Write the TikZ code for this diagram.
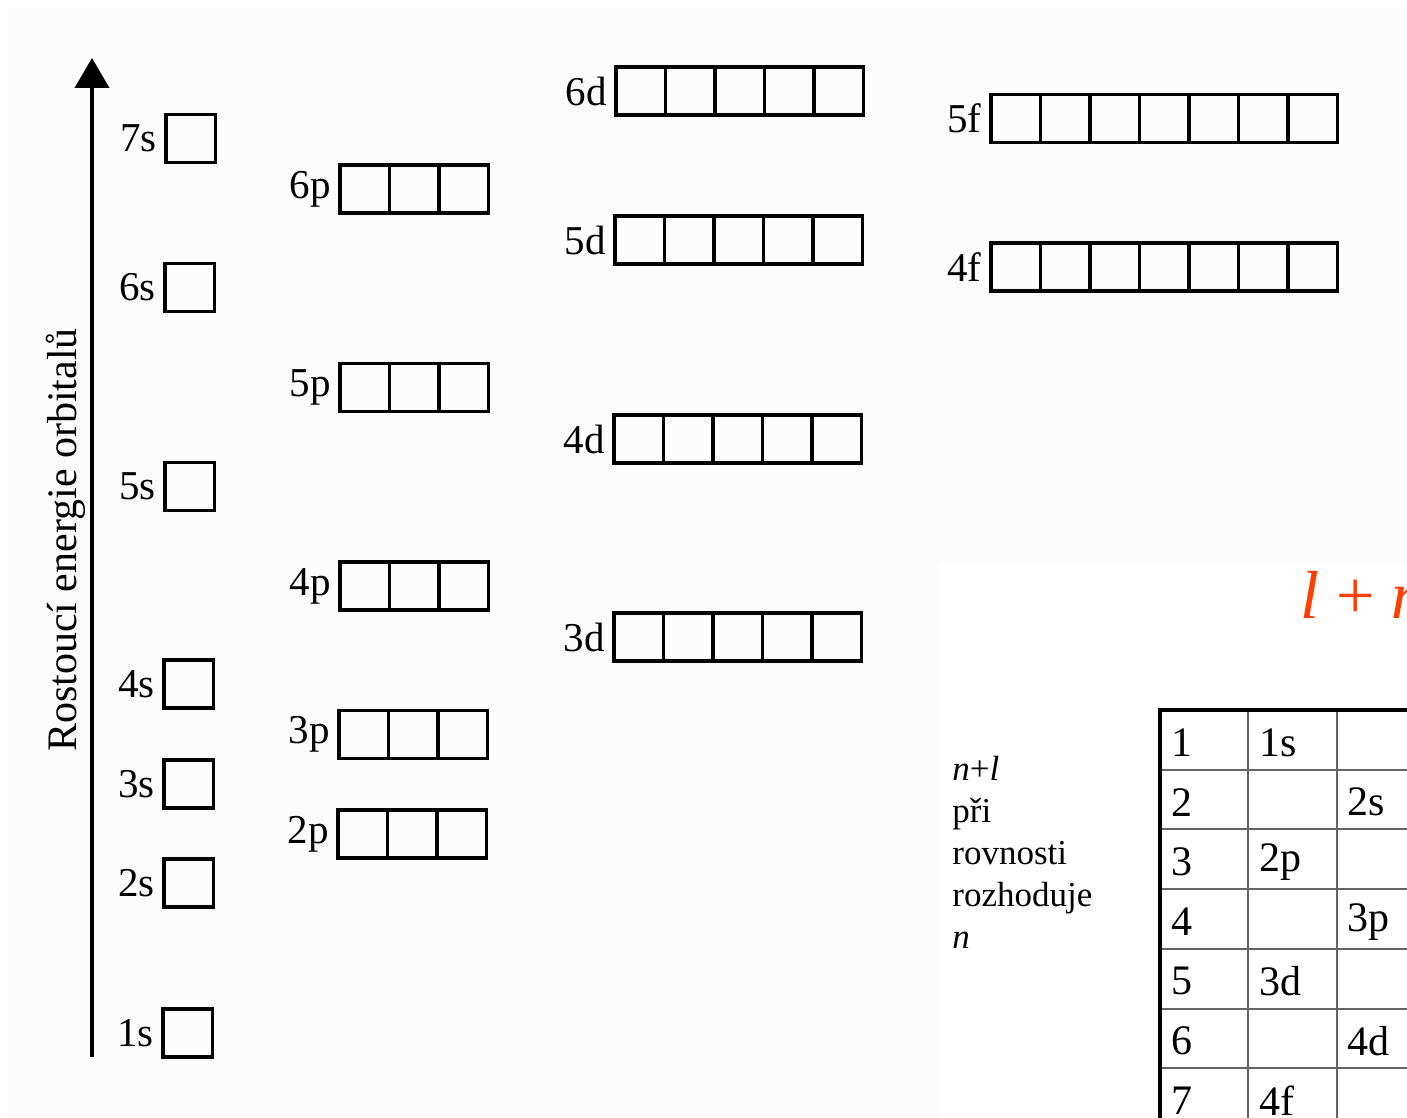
\documentclass[tikz,border=0pt]{standalone}
\usepackage{fontspec}
\setmainfont{Liberation Serif}
\usetikzlibrary{positioning,arrows.meta}
\definecolor{paper}{RGB}{251,252,251}
\definecolor{lnred}{RGB}{255,62,0}
\definecolor{rulegray}{RGB}{100,100,100}

\begin{document}
\begin{tikzpicture}[
    x=0.5pt, y=-0.5pt,
    cell/.style={rectangle, draw=black, line width=1.6pt, minimum width=24.75pt, minimum height=24pt, inner sep=0pt, outer sep=0pt},
    orblabel/.style={font=\fontsize{20.5}{24}\selectfont, inner sep=1pt},
    energy/.style={-{Triangle[length=15pt,width=17pt]}, line width=2pt},
    tcell/.style={anchor=west, font=\fontsize{21}{24}\selectfont, inner sep=0pt},
    thinrule/.style={draw=rulegray, line width=1pt},
    thickrule/.style={draw=black, line width=2pt}
]

% === PAGE ===
\path[use as bounding box, fill=white] (0,0) rectangle (1407,1118);
\fill[paper] (8,8) rectangle (1407,1118);
\fill[white] (940,563) rectangle (1407,1118);

% === ENERGY AXIS ===
\coordinate (axis-bot) at (92,1057);
\coordinate (axis-top) at (92,58);
\draw[energy] (axis-bot) -- (axis-top);
\node[rotate=90, inner sep=0pt, font=\fontsize{21}{24}\selectfont] (axis-lbl) at (66,540) {Rostoucí energie orbitalů};

% === ORBITALS ===
\foreach \nm/\lbl/\x/\y/\k in {
    s7/7s/166/138.5/1, s6/6s/165/287.5/1, s5/5s/165/486.5/1, s4/4s/164/684/1,
    s3/3s/164/784/1, s2/2s/164/883/1, s1/1s/163/1033/1,
    p6/6p/340/189/3, p5/5p/340/387.5/3, p4/4p/340/586/3, p3/3p/339/734.5/3, p2/2p/338/834/3,
    d6/6d/616/91/5, d5/5d/615/240/5, d4/4d/614/439/5, d3/3d/614/637/5,
    f5/5f/991/118.5/7, f4/4f/991/267/7} {
  \foreach \i in {1,...,\k}
    \node[cell] (\nm-\i) at ({\x+24.75+(\i-1)*49.5},\y) {};
  \node[orblabel, left=3.5pt of \nm-1] (\nm-lbl) {\lbl};
}

% === RULE ===
\begin{scope}
  \clip (0,0) rectangle (1407,1118);
  \node[anchor=west, text=lnred, inner sep=0pt, font=\fontsize{34}{36}\selectfont] (sum-rule) at (1300,595) {\textit{l} + \textit{n}};

  \node[anchor=north west, align=left, inner sep=0pt, font=\fontsize{17.5}{21}\selectfont] (rule-note) at (952,756)
    {\textit{n}+\textit{l}\\při\\rovnosti\\rozhoduje\\\textit{n}};

  % table grid
  \foreach \r in {1,...,7}
    \draw[thinrule] (1160,{710+59.7*\r}) -- (1420,{710+59.7*\r});
  \draw[thinrule] (1248,710) -- (1248,1130);
  \draw[thinrule] (1337,710) -- (1337,1130);
  \draw[thickrule] (1160,1130) -- (1160,710) -- (1420,710);

  % table entries
  \foreach \n/\a/\b [count=\r from 0] in {1/1s/{}, 2/{}/2s, 3/2p/{}, 4/{}/3p, 5/3d/{}, 6/{}/4d, 7/4f/{}} {
    \node[tcell] (t\n-n) at (1171,{742.5+59.7*\r}) {\n};
    \node[tcell] (t\n-a) at (1259,{742.5+59.7*\r}) {\a};
    \node[tcell] (t\n-b) at (1347,{742.5+59.7*\r}) {\b};
  }
\end{scope}

\end{tikzpicture}
\end{document}
